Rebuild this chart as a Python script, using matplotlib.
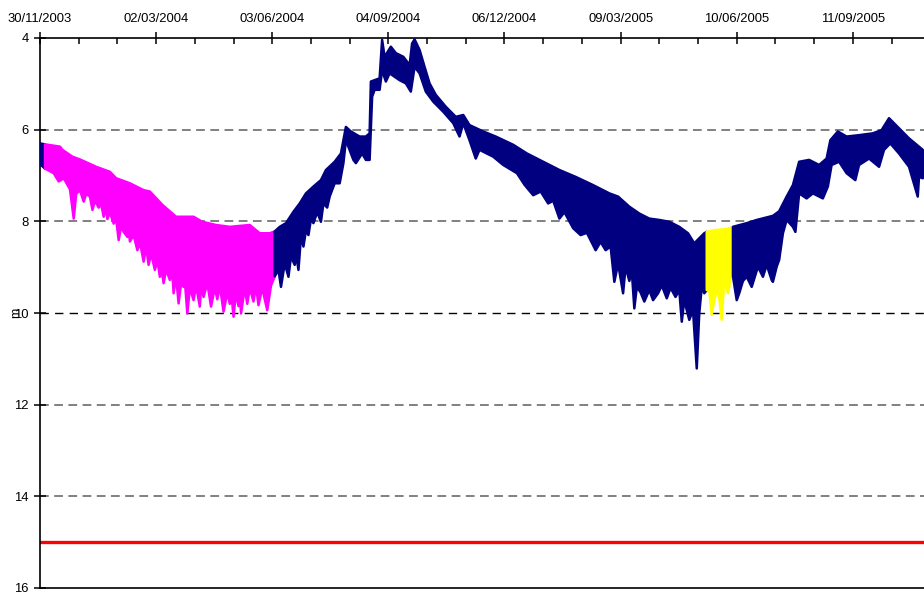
import matplotlib
matplotlib.use("Agg")
import matplotlib.pyplot as plt
import matplotlib.dates as mdates
import numpy as np
import pandas as pd

plt.rcParams["font.family"] = ["Liberation Sans", "DejaVu Sans"]

# Groundwater level (m below reference), daily fluctuation band:
# shallowest readings (upper edge) and deepest readings (lower edge)
upper_dates = [
    "2003-11-30", "2003-12-04", "2003-12-16", "2003-12-18", "2003-12-26",
    "2004-01-01", "2004-01-14", "2004-01-25", "2004-01-30", "2004-02-10",
    "2004-02-21", "2004-02-26", "2004-03-07", "2004-03-18", "2004-04-01",
    "2004-04-08", "2004-04-19", "2004-04-30", "2004-05-16", "2004-05-24",
    "2004-06-01", "2004-06-05", "2004-06-09", "2004-06-14", "2004-06-20",
    "2004-06-25", "2004-06-30", "2004-07-06", "2004-07-12", "2004-07-16",
    "2004-07-23", "2004-07-28", "2004-08-01", "2004-08-05", "2004-08-12",
    "2004-08-17", "2004-08-20", "2004-08-21", "2004-08-28", "2004-08-30",
    "2004-09-01", "2004-09-06", "2004-09-10", "2004-09-16", "2004-09-21",
    "2004-09-23", "2004-09-25", "2004-09-29", "2004-10-03", "2004-10-07",
    "2004-10-12", "2004-10-20", "2004-10-28", "2004-11-03", "2004-11-08",
    "2004-11-19", "2004-11-29", "2004-12-13", "2004-12-24", "2005-01-06",
    "2005-01-19", "2005-02-01", "2005-02-15", "2005-02-28", "2005-03-07",
    "2005-03-16", "2005-03-24", "2005-04-01", "2005-04-09", "2005-04-17",
    "2005-04-25", "2005-05-02", "2005-05-07", "2005-05-11", "2005-05-15",
    "2005-05-17", "2005-05-24", "2005-06-02", "2005-06-07", "2005-06-18",
    "2005-06-26", "2005-07-09", "2005-07-14", "2005-07-20", "2005-07-25",
    "2005-07-30", "2005-08-07", "2005-08-15", "2005-08-21", "2005-08-24",
    "2005-08-30", "2005-09-06", "2005-09-16", "2005-09-27", "2005-10-04",
    "2005-10-10", "2005-10-18", "2005-10-26", "2005-11-06",
]
upper_depth = [
    6.30, 6.32, 6.37, 6.44, 6.59,
    6.65, 6.81, 6.92, 7.06, 7.17,
    7.32, 7.35, 7.64, 7.90, 7.90,
    8.01, 8.08, 8.12, 8.08, 8.26,
    8.26, 8.22, 8.12, 8.04, 7.79,
    7.61, 7.39, 7.24, 7.10, 6.88,
    6.70, 6.52, 5.94, 6.04, 6.15,
    6.15, 6.08, 4.95, 4.88, 4.04,
    4.41, 4.19, 4.33, 4.41, 4.59,
    4.12, 4.03, 4.26, 4.63, 4.99,
    5.24, 5.50, 5.72, 5.68, 5.90,
    6.04, 6.15, 6.33, 6.52, 6.70,
    6.88, 7.03, 7.21, 7.39, 7.46,
    7.68, 7.83, 7.94, 7.97, 8.01,
    8.12, 8.26, 8.48, 8.37, 8.26,
    8.23, 8.19, 8.17, 8.12, 8.04,
    7.97, 7.88, 7.78, 7.46, 7.21,
    6.70, 6.66, 6.77, 6.63, 6.23,
    6.04, 6.15, 6.12, 6.08, 6.01,
    5.75, 5.97, 6.19, 6.44,
]

lower_dates = [
    "2003-11-30", "2003-12-04", "2003-12-11", "2003-12-15", "2003-12-19", "2003-12-24",
    "2003-12-27", "2003-12-29", "2004-01-01", "2004-01-04", "2004-01-06", "2004-01-09",
    "2004-01-11", "2004-01-13", "2004-01-16", "2004-01-18", "2004-01-20", "2004-01-22",
    "2004-01-23", "2004-01-25", "2004-01-28", "2004-01-30", "2004-02-01", "2004-02-03",
    "2004-02-05", "2004-02-08", "2004-02-09", "2004-02-10", "2004-02-13", "2004-02-16",
    "2004-02-18", "2004-02-21", "2004-02-23", "2004-02-25", "2004-02-27", "2004-03-01",
    "2004-03-03", "2004-03-05", "2004-03-06", "2004-03-08", "2004-03-10", "2004-03-13",
    "2004-03-15", "2004-03-16", "2004-03-18", "2004-03-20", "2004-03-22", "2004-03-24",
    "2004-03-25", "2004-03-27", "2004-03-29", "2004-04-01", "2004-04-03", "2004-04-06",
    "2004-04-07", "2004-04-09", "2004-04-12", "2004-04-15", "2004-04-18", "2004-04-20",
    "2004-04-22", "2004-04-25", "2004-04-28", "2004-04-30", "2004-05-01", "2004-05-03",
    "2004-05-05", "2004-05-07", "2004-05-08", "2004-05-09", "2004-05-12", "2004-05-14",
    "2004-05-16", "2004-05-19", "2004-05-21", "2004-05-23", "2004-05-26", "2004-05-28",
    "2004-05-30", "2004-06-02", "2004-06-05", "2004-06-08", "2004-06-10", "2004-06-13",
    "2004-06-16", "2004-06-18", "2004-06-21", "2004-06-22", "2004-06-24", "2004-06-26",
    "2004-06-28", "2004-06-30", "2004-07-02", "2004-07-04", "2004-07-06", "2004-07-09",
    "2004-07-12", "2004-07-14", "2004-07-17", "2004-07-19", "2004-07-23", "2004-07-27",
    "2004-07-30", "2004-08-01", "2004-08-07", "2004-08-09", "2004-08-14", "2004-08-17",
    "2004-08-20", "2004-08-22", "2004-08-24", "2004-08-28", "2004-08-30", "2004-09-02",
    "2004-09-05", "2004-09-13", "2004-09-18", "2004-09-22", "2004-09-25", "2004-09-29",
    "2004-10-04", "2004-10-10", "2004-10-18", "2004-10-26", "2004-10-31", "2004-11-03",
    "2004-11-08", "2004-11-13", "2004-11-16", "2004-11-27", "2004-12-05", "2004-12-16",
    "2004-12-22", "2004-12-29", "2005-01-04", "2005-01-10", "2005-01-14", "2005-01-19",
    "2005-01-23", "2005-01-30", "2005-02-05", "2005-02-10", "2005-02-17", "2005-02-21",
    "2005-02-25", "2005-03-01", "2005-03-04", "2005-03-07", "2005-03-11", "2005-03-13",
    "2005-03-16", "2005-03-18", "2005-03-20", "2005-03-22", "2005-03-25", "2005-03-28",
    "2005-04-01", "2005-04-04", "2005-04-08", "2005-04-11", "2005-04-15", "2005-04-18",
    "2005-04-22", "2005-04-25", "2005-04-27", "2005-04-29", "2005-05-03", "2005-05-06",
    "2005-05-09", "2005-05-11", "2005-05-13", "2005-05-15", "2005-05-17", "2005-05-19",
    "2005-05-21", "2005-05-23", "2005-05-26", "2005-05-29", "2005-05-31", "2005-06-03",
    "2005-06-06", "2005-06-07", "2005-06-10", "2005-06-12", "2005-06-15", "2005-06-18",
    "2005-06-22", "2005-06-27", "2005-07-01", "2005-07-04", "2005-07-08", "2005-07-09",
    "2005-07-12", "2005-07-14", "2005-07-17", "2005-07-20", "2005-07-25", "2005-07-27",
    "2005-07-30", "2005-08-05", "2005-08-10", "2005-08-18", "2005-08-22", "2005-08-25",
    "2005-08-31", "2005-09-06", "2005-09-13", "2005-09-16", "2005-09-24", "2005-10-02",
    "2005-10-06", "2005-10-11", "2005-10-18", "2005-10-26", "2005-11-02", "2005-11-03",
    "2005-11-06",
]
lower_depth = [
    6.75, 6.85, 6.95, 7.13, 7.06, 7.30,
    7.94, 7.40, 7.32, 7.57, 7.40, 7.46,
    7.75, 7.55, 7.70, 7.62, 7.90, 7.72,
    7.95, 7.80, 8.05, 7.95, 8.41, 8.10,
    8.23, 8.34, 8.15, 8.44, 8.30, 8.63,
    8.45, 8.88, 8.55, 8.95, 8.70, 9.06,
    8.85, 9.21, 8.95, 9.35, 9.05, 9.28,
    9.10, 9.57, 9.20, 9.79, 9.35, 9.43,
    9.30, 10.01, 9.45, 9.72, 9.40, 9.86,
    9.40, 9.65, 9.35, 9.86, 9.45, 9.70,
    9.40, 9.97, 9.55, 9.80, 9.50, 10.08,
    9.55, 9.85, 9.50, 10.01, 9.45, 9.80,
    9.45, 9.75, 9.40, 9.83, 9.45, 9.70,
    9.94, 9.40, 9.20, 9.06, 9.43, 8.92,
    9.21, 8.77, 8.95, 8.70, 9.06, 8.34,
    8.55, 8.20, 8.30, 7.95, 8.04, 7.80,
    8.01, 7.61, 7.70, 7.46, 7.17, 7.17,
    6.73, 6.23, 6.66, 6.73, 6.52, 6.66,
    6.66, 5.28, 5.13, 5.13, 4.70, 4.95,
    4.77, 4.92, 4.99, 5.17, 4.63, 4.77,
    5.17, 5.39, 5.61, 5.86, 6.15, 5.86,
    6.23, 6.63, 6.44, 6.59, 6.77, 6.95,
    7.20, 7.43, 7.35, 7.61, 7.55, 7.94,
    7.80, 8.15, 8.30, 8.25, 8.63, 8.45,
    8.63, 8.55, 9.32, 8.92, 9.57, 8.99,
    9.30, 9.10, 9.90, 9.43, 9.55, 9.75,
    9.50, 9.72, 9.57, 9.40, 9.68, 9.45,
    9.65, 9.50, 10.19, 9.72, 10.15, 9.94,
    11.21, 10.01, 9.43, 9.57, 9.50, 9.50,
    10.04, 9.72, 9.43, 10.15, 9.28, 9.57,
    9.13, 9.20, 9.72, 9.57, 9.30, 9.21,
    9.43, 8.99, 9.21, 8.95, 9.28, 9.32,
    8.99, 8.84, 8.26, 7.97, 8.12, 8.23,
    7.39, 7.50, 7.39, 7.50, 7.24, 6.77,
    6.70, 6.95, 7.10, 6.77, 6.63, 6.81,
    6.44, 6.30, 6.52, 6.81, 7.46, 7.03,
    7.06,
]
assert len(upper_dates) == len(upper_depth)
assert len(lower_dates) == len(lower_depth)

# Colour of the record between consecutive breakpoints
period_breaks = ["2003-11-30", "2003-12-04", "2004-06-05", "2005-05-17", "2005-06-07", "2005-11-06"]
period_colors = ["#000080", "#FF00FF", "#000080", "#FFFF00", "#000080"]

alarm_depth = 15.0
y_ticks = [4, 6, 8, 10, 12, 14, 16]
x_tick_labels = ["30/11/2003", "02/03/2004", "03/06/2004", "04/09/2004",
                 "06/12/2004", "09/03/2005", "10/06/2005", "11/09/2005"]
y_axis_title = "m"

# ---------------------------------------------------------------------------
W, H = 924, 592
fig = plt.figure(figsize=(W / 100, H / 100), dpi=100, facecolor="white")
ax = fig.add_axes([40 / W, 4 / H, 884 / W, 550 / H])

up_x = mdates.date2num(pd.to_datetime(upper_dates))
up_y = np.array(upper_depth)
lo_x = mdates.date2num(pd.to_datetime(lower_dates))
lo_y = np.array(lower_depth)
breaks = mdates.date2num(pd.to_datetime(period_breaks))

for start, end, color in zip(breaks[:-1], breaks[1:], period_colors):
    mu = (up_x >= start) & (up_x <= end)
    ml = (lo_x >= start) & (lo_x <= end)
    xs = np.concatenate([up_x[mu], lo_x[ml][::-1]])
    ys = np.concatenate([up_y[mu], lo_y[ml][::-1]])
    ax.fill(xs, ys, facecolor=color, edgecolor=color, linewidth=1.8,
            joinstyle="round", zorder=3)

# horizontal reference lines
for yv in y_ticks[1:-1]:
    if yv == 10:
        ax.axhline(yv, color="black", linewidth=1.0, linestyle=(0, (6, 4.5)), zorder=1)
    else:
        ax.axhline(yv, color="#808080", linewidth=1.4, linestyle=(0, (4.5, 2.8)), zorder=1)
ax.axhline(alarm_depth, color="#FF0000", linewidth=2.4, zorder=2)

# axes ranges
tick_dates = pd.to_datetime(x_tick_labels, format="%d/%m/%Y")
x_start = tick_dates[0]
x_end = x_start + pd.Timedelta(days=708)
ax.set_xlim(mdates.date2num(x_start), mdates.date2num(x_end))
ax.set_ylim(y_ticks[-1], y_ticks[0])

ax.set_xticks(mdates.date2num(tick_dates))
ax.set_xticklabels(x_tick_labels)
minor = pd.date_range(x_start, x_end, freq="31D")
ax.set_xticks(mdates.date2num(minor), minor=True)
ax.set_yticks(y_ticks)
ax.set_yticklabels([str(v) for v in y_ticks])

ax.xaxis.tick_top()
ax.tick_params(axis="x", which="major", direction="inout", length=8, width=1.1,
               pad=5, labelsize=9.4, colors="black", top=True, bottom=False,
               labeltop=True, labelbottom=False)
ax.tick_params(axis="x", which="minor", direction="in", length=4, width=1.1,
               top=True, bottom=False)
ax.tick_params(axis="y", which="major", direction="inout", length=8, width=1.1,
               pad=4, labelsize=9.4, colors="black")

for side in ("top", "left", "bottom"):
    ax.spines[side].set_linewidth(1.2)
    ax.spines[side].set_color("black")
ax.spines["right"].set_visible(False)

fig.text(16 / W, 1 - 313 / H, y_axis_title, rotation=90, ha="center",
         va="center", fontsize=9)

fig.savefig("out.png", dpi=100, facecolor="white")
